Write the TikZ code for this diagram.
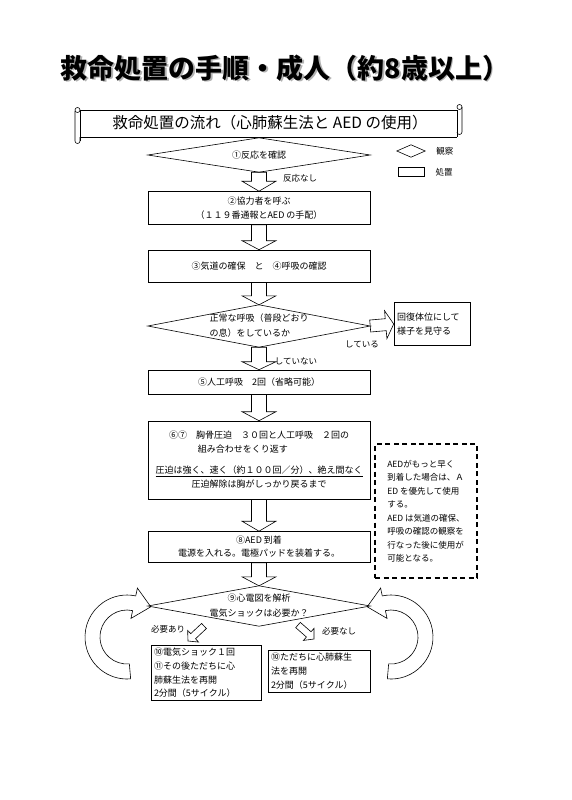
\documentclass[tikz,border=0pt]{standalone}
\usepackage{fontspec}
\setmainfont{Noto Sans CJK JP}
\usetikzlibrary{calc,positioning}

% hollow block arrow: from, to, shaft half width, head half width, head length
\newcommand{\blockarrow}[5]{%
  \coordinate (ba-h) at ($(#2)!#5!(#1)$);
  \draw[flowline] ($(#1)!#3!90:(#2)$) -- ($(ba-h)!#3!90:(#2)$)
    -- ($(ba-h)!#4!90:(#2)$) -- (#2) -- ($(ba-h)!#4!-90:(#2)$)
    -- ($(ba-h)!#3!-90:(#2)$) -- ($(#1)!#3!-90:(#2)$) -- cycle;}

\tikzset{
  flowline/.style={line width=0.6pt},
  stepbox/.style={draw, line width=0.6pt, minimum width=222pt, inner sep=2pt,
    align=center, font=\fontsize{9}{14}\selectfont},
  checkdia/.style={minimum width=222pt, inner sep=0pt, align=center,
    font=\fontsize{9}{15}\selectfont},
  sidebox/.style={draw, line width=0.6pt, inner sep=3pt, align=left,
    font=\fontsize{9}{13.7}\selectfont},
  tag/.style={font=\fontsize{8.5}{10}\selectfont, inner sep=1pt}
}

\begin{document}
\begin{tikzpicture}[x=1pt, y=-1pt]
  \path[fill=white] (0,0) rectangle (571,800);
  \useasboundingbox (0,0) rectangle (571,800);

  % Title with shadow
  \node[text=gray!60, font=\fontsize{27}{30}\selectfont\bfseries] (titleshadow) at (286.5,69.5)
    {救命処置の手順・成人（約8歳以上）};
  \node[font=\fontsize{27}{30}\selectfont\bfseries] (title) at (285,68)
    {救命処置の手順・成人（約8歳以上）};

  % Scroll banner
  \draw[flowline] (80,110) -- (458,110);
  \draw[flowline] (80,137) -- (457,137);
  \draw[flowline] (80,110) -- (80,141);
  \draw[flowline] (75,111) -- (75,141) arc[start angle=180, end angle=0, radius=2.5] -- (80,137);
  \draw[flowline] (77.5,110) circle (2.5);
  \draw[flowline] (457,110) -- (457,137);
  \draw[flowline] (462,107) -- (462,132) arc[start angle=0, end angle=180, radius=2.5];
  \draw[flowline] (459.5,107) circle (2.5);
  \node[font=\fontsize{15.5}{17}\selectfont] (banner) at (270,123)
    {救命処置の流れ（心肺蘇生法と AED の使用）};

  % Legend
  \node[minimum width=28pt, minimum height=12pt, inner sep=0pt] (legdia) at (411,151) {};
  \draw[flowline] (legdia.west) -- (legdia.north) -- (legdia.east) -- (legdia.south) -- cycle;
  \node[tag, right=10pt of legdia] (legdiatext) {観察};
  \node[draw, flowline, minimum width=26pt, minimum height=9pt, inner sep=0pt] (legbox) at (411,172) {};
  \node[tag, right=10pt of legbox] (legboxtext) {処置};

  % Flow nodes
  \node[checkdia, minimum height=34pt] (d1) at (259,155) {①反応を確認};
  \node[stepbox, minimum height=33pt] (b2) at (259,208)
    {②協力者を呼ぶ\\（１１９番通報とAED の手配）};
  \node[stepbox, minimum height=32pt] (b3) at (259,266)
    {③気道の確保　と　④呼吸の確認};
  \node[checkdia, minimum height=42pt, align=left] (d2) at (259,326)
    {正常な呼吸（普段どおり\\の息）をしているか};
  \node[sidebox, text width=70pt, minimum height=43pt] (side) at (432,324)
    {回復体位にして\\様子を見守る};
  \node[stepbox, minimum height=24pt] (b5) at (259,382)
    {⑤人工呼吸　2回（省略可能）};
  \node[stepbox, minimum height=78pt] (b67) at (259,460)
    {⑥⑦　胸骨圧迫　３０回と人工呼吸　２回の\\
     \makebox[20em][l]{\hspace{3.2em}組み合わせをくり返す}\\[7pt]
     \underline{圧迫は強く、速く（約１００回／分）、絶え間なく}\\
     圧迫解除は胸がしっかり戻るまで};
  \node[stepbox, minimum height=31pt, font=\fontsize{9}{13}\selectfont] (b8) at (259,547)
    {⑧AED 到着\\電源を入れる。電極パッドを装着する。};
  \node[checkdia, minimum height=40pt] (d3) at (259,606)
    {⑨心電図を解析\\電気ショックは必要か？};
  \node[sidebox, text width=104pt, minimum height=54pt] (b10) at (206,673)
    {⑩電気ショック１回\\⑪その後ただちに心\\肺蘇生法を再開\\2分間（5サイクル）};
  \node[sidebox, text width=96pt, minimum height=42pt] (b11) at (319,671)
    {⑩ただちに心肺蘇生\\法を再開\\2分間（5サイクル）};

  % AED note
  \node[draw, line width=1.2pt, dash pattern=on 5pt off 3.5pt, minimum width=102pt,
    minimum height=134pt, inner sep=4pt, align=left,
    font=\fontsize{8.5}{13.5}\selectfont] (aednote) at (426,511)
    {AEDがもっと早く\\到着した場合は、Ａ\\ED を優先して使用\\する。\\AED は気道の確保、\\呼吸の確認の観察を\\行なった後に使用が\\可能となる。};

  % Diamonds
  \foreach \d in {d1,d2,d3}
    \draw[flowline] (\d.west) -- (\d.north) -- (\d.east) -- (\d.south) -- cycle;

  % Block arrows
  \blockarrow{d1.south}{b2.north}{7.5pt}{17pt}{10pt}
  \blockarrow{b2.south}{b3.north}{7.5pt}{17pt}{9pt}
  \blockarrow{b3.south}{d2.north}{7.5pt}{17pt}{9pt}
  \blockarrow{d2.south}{b5.north}{7.5pt}{17pt}{8pt}
  \blockarrow{b5.south}{b67.north}{7.5pt}{17pt}{9pt}
  \blockarrow{b67.south}{b8.north}{7.5pt}{17pt}{10pt}
  \blockarrow{b8.south}{d3.north}{7.5pt}{17pt}{9pt}
  \blockarrow{d2.east}{side.west}{6pt}{14pt}{8pt}

  \coordinate (yes-a) at (204,626);
  \coordinate (yes-b) at (188,641);
  \coordinate (no-a) at (298,625);
  \coordinate (no-b) at (314,639);
  \blockarrow{yes-a}{yes-b}{3.5pt}{8pt}{7pt}
  \blockarrow{no-a}{no-b}{3.5pt}{8pt}{7pt}

  % Arrow labels
  \node[tag] (nores) at (300,178) {反応なし};
  \node[tag] (breath) at (362,344) {している};
  \node[tag] (nobreath) at (296,361) {していない};
  \node[tag] (need) at (168,629) {必要あり};
  \node[tag] (noneed) at (339,631) {必要なし};

  % Loop-back arrows
  \coordinate (lc) at (127,637);
  \coordinate (rc) at (391,637);
  \draw[flowline] ($(lc)+(85:42)$) arc[start angle=85, end angle=282, radius=42]
    -- ($(lc)+(282:50)$) -- ($(lc)+(282:34.5)+(12:17)$) -- ($(lc)+(282:19)$)
    -- ($(lc)+(282:27)$) arc[start angle=282, end angle=85, radius=27] -- cycle;
  \draw[flowline] ($(rc)+(95:42)$) arc[start angle=95, end angle=-102, radius=42]
    -- ($(rc)+(-102:50)$) -- ($(rc)+(-102:34.5)+(168:17)$) -- ($(rc)+(-102:19)$)
    -- ($(rc)+(-102:27)$) arc[start angle=-102, end angle=95, radius=27] -- cycle;
\end{tikzpicture}
\end{document}
